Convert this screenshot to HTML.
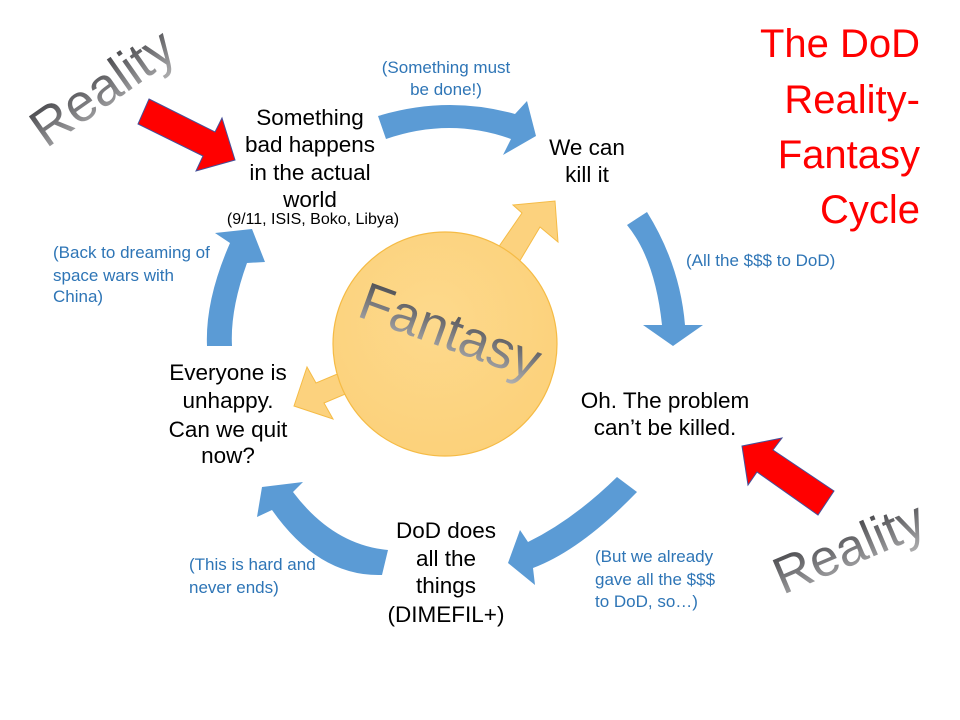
<!DOCTYPE html>
<html>
<head>
<meta charset="utf-8">
<style>
  html,body{margin:0;padding:0;background:#fff;}
  svg{display:block;}
  .b{font-family:"Liberation Sans",sans-serif;font-size:22.5px;fill:#000;text-anchor:middle;}
  .bl{font-family:"Liberation Sans",sans-serif;font-size:17px;fill:#2e75b6;}
  .t{font-family:"Liberation Sans",sans-serif;font-size:40px;fill:#ff0000;text-anchor:end;}
</style>
</head>
<body>
<svg width="960" height="720" viewBox="0 0 960 720" xmlns="http://www.w3.org/2000/svg" overflow="visible">
  <defs>
    <linearGradient id="gray" gradientUnits="userSpaceOnUse" x1="0" y1="-25" x2="0" y2="30">
      <stop offset="0" stop-color="#4a4a4e"/>
      <stop offset="0.75" stop-color="#9a9a9c"/>
      <stop offset="1" stop-color="#b4b4b4"/>
    </linearGradient>
    <radialGradient id="sun" cx="0.45" cy="0.4" r="0.7">
      <stop offset="0" stop-color="#fdd98c"/>
      <stop offset="1" stop-color="#fcd078"/>
    </radialGradient>
  </defs>
  <rect width="960" height="720" fill="#fff"/>

  <!-- Title -->
  <text class="t" x="920" y="57">The DoD</text>
  <text class="t" x="920" y="113">Reality-</text>
  <text class="t" x="920" y="168">Fantasy</text>
  <text class="t" x="920" y="223">Cycle</text>

  <!-- Blue cycle arrows -->
  <g fill="#5b9bd5">
    <path d="M 378,116 Q 447,95 515,114 L 527,101 L 536,136 L 503,155 L 511,139 Q 450,117 386,139 Z"/>
    <path d="M 627,225 L 647,212 Q 680,265 685,325 L 703,325 L 673,346 L 643,325 L 662,325 Q 655,259 627,225 Z"/>
    <path d="M 617,477 L 637,492 Q 581,550 533,568 L 535,585 L 508,563 L 520,530 L 528,542 Q 573,520 617,477 Z"/>
    <path d="M 388,550 Q 333,545 293,492 L 303,482 L 262,487 L 257,517 L 272,510 Q 319,577 382,575 Z"/>
    <path d="M 207,346 Q 205,300 230,243 L 215,233 L 252,229 L 265,262 L 247,263 Q 230,310 232,346 Z"/>
  </g>

  <!-- Fantasy arrows -->
  <g fill="#fcd27e" stroke="#f5bb45" stroke-width="1">
    <path d="M 478,277 L 522,213 L 513,205 L 555,201 L 558,242 L 540,227 L 500,294 Z"/>
    <path d="M 294,406 L 307,367 L 316,383 L 380,356 L 388,376 L 324,403 L 333,419 Z"/>
  </g>
  <!-- Fantasy circle -->
  <circle cx="445" cy="344" r="112" fill="url(#sun)" stroke="#f5bb45" stroke-width="1.2"/>
  <g transform="translate(450,332) rotate(20)">
    <text x="0" y="17" text-anchor="middle"
        font-family="Liberation Sans, sans-serif" font-size="53" fill="url(#gray)">Fantasy</text>
  </g>

  <!-- Red arrows -->
  <g fill="#ff0000" stroke="#44509a" stroke-width="1">
    <path d="M 149,99 L 215,132 L 222,118 L 235,160 L 196,171 L 203,156 L 138,124 Z"/>
    <path d="M 742,446 L 782,438 L 773,450 L 834,491 L 818,515 L 757,472 L 748,485 Z"/>
  </g>

  <!-- Reality labels -->
  <g transform="translate(104,90) rotate(-35)">
    <text x="0" y="15" text-anchor="middle"
        font-family="Liberation Sans, sans-serif" font-size="53" fill="url(#gray)">Reality</text>
  </g>
  <g transform="translate(850,550) rotate(-23)">
    <text x="0" y="15" text-anchor="middle"
        font-family="Liberation Sans, sans-serif" font-size="52" fill="url(#gray)">Reality</text>
  </g>

  <!-- Black node labels -->
  <text class="b" x="310" y="125">Something</text>
  <text class="b" x="310" y="152">bad happens</text>
  <text class="b" x="310" y="180">in the actual</text>
  <text class="b" x="310" y="207">world</text>
  <text x="313" y="224" text-anchor="middle" font-family="Liberation Sans, sans-serif" font-size="16" fill="#000">(9/11, ISIS, Boko, Libya)</text>

  <text class="b" x="587" y="155">We can</text>
  <text class="b" x="587" y="182">kill it</text>

  <text class="b" x="665" y="408">Oh. The problem</text>
  <text class="b" x="665" y="435">can’t be killed.</text>

  <text class="b" x="446" y="538">DoD does</text>
  <text class="b" x="446" y="566">all the</text>
  <text class="b" x="446" y="593">things</text>
  <text class="b" x="446" y="622">(DIMEFIL+)</text>

  <text class="b" x="228" y="380">Everyone is</text>
  <text class="b" x="228" y="408">unhappy.</text>
  <text class="b" x="228" y="437">Can we quit</text>
  <text class="b" x="228" y="463">now?</text>

  <!-- Blue annotations -->
  <text class="bl" x="446" y="73" text-anchor="middle">(Something must</text>
  <text class="bl" x="446" y="95" text-anchor="middle">be done!)</text>

  <text class="bl" x="686" y="266">(All the $$$ to DoD)</text>

  <text class="bl" x="595" y="562">(But we already</text>
  <text class="bl" x="595" y="585">gave all the $$$</text>
  <text class="bl" x="595" y="607">to DoD, so…)</text>

  <text class="bl" x="189" y="570">(This is hard and</text>
  <text class="bl" x="189" y="593">never ends)</text>

  <text class="bl" x="53" y="258">(Back to dreaming of</text>
  <text class="bl" x="53" y="281">space wars with</text>
  <text class="bl" x="53" y="302">China)</text>
</svg>
</body>
</html>
